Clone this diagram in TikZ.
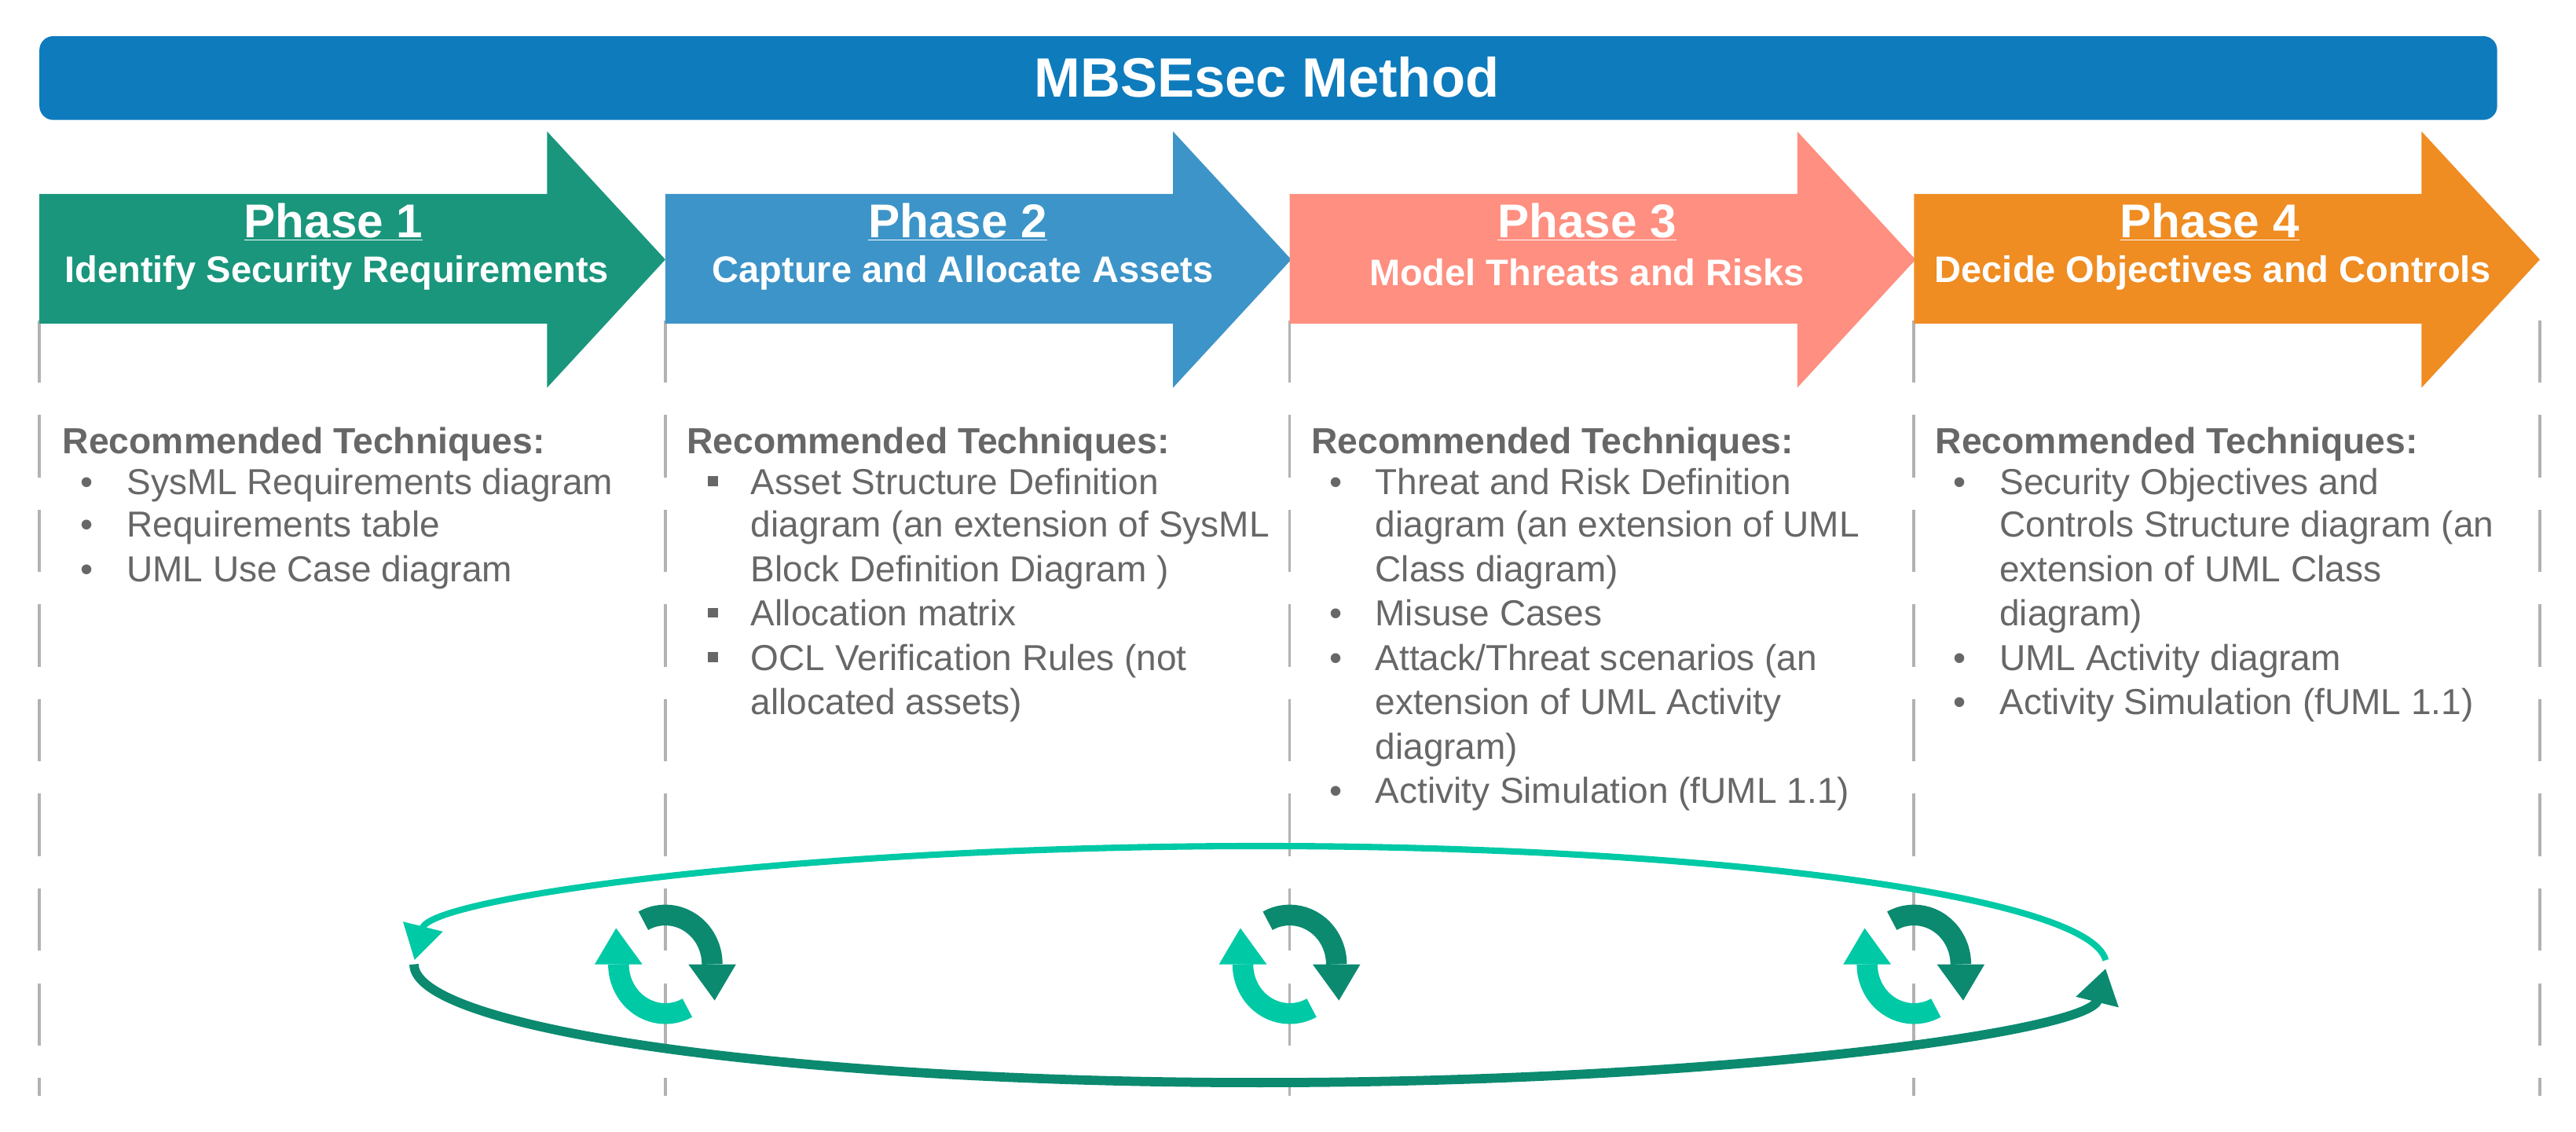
\documentclass[tikz,border=0pt]{standalone}
\usepackage{fontspec}
\setmainfont{Liberation Sans}
\usetikzlibrary{arrows.meta}
\definecolor{titleblue}{HTML}{0E7BBD}
\definecolor{pone}{HTML}{1A967C}
\definecolor{ptwo}{HTML}{3D94C8}
\definecolor{pthree}{HTML}{FF8F80}
\definecolor{pfour}{HTML}{EF8C22}
\definecolor{txtgray}{HTML}{676767}
\definecolor{lteal}{HTML}{00C9A6}
\definecolor{dteal}{HTML}{0B8A70}
\begin{document}
\begin{tikzpicture}[x=0.05cm,y=-0.05cm,
  hd/.style={font=\fontsize{31.5}{36}\selectfont\bfseries,text=txtgray,anchor=base west,inner sep=0},
  it/.style={font=\fontsize{31.3}{36}\selectfont,text=txtgray,anchor=base west,inner sep=0},
  ph/.style={font=\fontsize{41}{46}\selectfont\bfseries,text=white,inner sep=0},
  sub/.style={font=\fontsize{32}{36}\selectfont\bfseries,text=white,inner sep=0},
  dl/.style={draw=gray!60,line width=2.5pt,dash pattern=on 54pt off 28pt},
  cyc/.style={line width=18pt}]
\useasboundingbox (0,0) rectangle (1568,689);
% dashed lines
\foreach \x in {24,405,785,1165,1546} \draw[dl] (\x,195) -- (\x,667);
% title
\fill[titleblue,rounded corners=12pt] (24,22) rectangle (1520,73);
\node[font=\fontsize{48}{52}\selectfont\bfseries,text=white] (title) at (771,47) {MBSEsec Method};
% phase arrows
\foreach \L/\c/\n in {24/pone/1,405/ptwo/2,785/pthree/3,1165/pfour/4}
  \fill[\c] (\L,118) -- (\L+309,118) -- (\L+309,80) -- (\L+381,158) -- (\L+309,236) -- (\L+309,197) -- (\L,197) -- cycle;
\node[ph] (p1) at (203,135) {\underline{Phase 1}};
\node[sub] (s1) at (205,166) {Identify Security Requirements};
\node[ph] (p2) at (583,135) {\underline{Phase 2}};
\node[sub] (s2) at (586,166) {Capture and Allocate Assets};
\node[ph] (p3) at (966,135) {\underline{Phase 3}};
\node[sub] (s3) at (966,166) {Model Threats and Risks};
\node[ph] (p4) at (1345,135) {\underline{Phase 4}};
\node[sub] (s4) at (1347,166) {Decide Objectives and Controls};
% column 1
\node[hd] (h1) at (38,276) {Recommended Techniques:};
\foreach \y/\t [count=\i] in {301/SysML Requirements diagram,327/Requirements table,354/UML Use Case diagram}{
  \node[it] (a\i) at (77,\y) {\t};
  \node[it] (ab\i) at (49,\y) {•};}
% column 2
\node[hd] (h2) at (418,276) {Recommended Techniques:};
\node[it] (b1) at (457,301) {Asset Structure Definition};
\node[it] (b2) at (457,327) {diagram (an extension of SysML};
\node[it] (b3) at (457,354) {Block Definition Diagram )};
\node[it] (b4) at (457,381) {Allocation matrix};
\node[it] (b5) at (457,408) {OCL Verification Rules (not};
\node[it] (b6) at (457,435) {allocated assets)};
\foreach \y in {301,381,408} \fill[txtgray] (431,\y-11) rectangle (437,\y-5);
% column 3
\node[hd] (h3) at (798,276) {Recommended Techniques:};
\node[it] (c1) at (837,301) {Threat and Risk Definition};
\node[it] (c2) at (837,327) {diagram (an extension of UML};
\node[it] (c3) at (837,354) {Class diagram)};
\node[it] (c4) at (837,381) {Misuse Cases};
\node[it] (c5) at (837,408) {Attack/Threat scenarios (an};
\node[it] (c6) at (837,435) {extension of UML Activity};
\node[it] (c7) at (837,462) {diagram)};
\node[it] (c8) at (837,489) {Activity Simulation (fUML 1.1)};
\foreach \y [count=\i] in {301,381,408,489} \node[it] (cb\i) at (809,\y) {•};
% column 4
\node[hd] (h4) at (1178,276) {Recommended Techniques:};
\node[it] (d1) at (1217,301) {Security Objectives and};
\node[it] (d2) at (1217,327) {Controls Structure diagram (an};
\node[it] (d3) at (1217,354) {extension of UML Class};
\node[it] (d4) at (1217,381) {diagram)};
\node[it] (d5) at (1217,408) {UML Activity diagram};
\node[it] (d6) at (1217,435) {Activity Simulation (fUML 1.1)};
\foreach \y [count=\i] in {301,408,435} \node[it] (db\i) at (1189,\y) {•};
% big loop (y up inside scope)
\begin{scope}[shift={(767,587)},y=0.05cm]
\draw[lteal,line width=5.5pt,-{Triangle[width=34pt,length=30pt]}] (2:515 and 72) arc[start angle=2,end angle=178,x radius=515,y radius=72];
\draw[dteal,line width=8pt,-{Triangle[width=36pt,length=30pt]}] (180:515 and 72) arc[start angle=180,end angle=358,x radius=515,y radius=72];
\end{scope}
% cycle icons
\foreach \cx in {405,785,1165}{
  \begin{scope}[shift={(\cx,587)},y=0.05cm]
  \draw[dteal,cyc] (118:28.5 and 30) arc[start angle=118,end angle=0,x radius=28.5,y radius=30];
  \fill[dteal] (14,0) -- (43,0) -- (30,-22) -- cycle;
  \draw[lteal,cyc] (-62:28.5 and 30) arc[start angle=-62,end angle=-180,x radius=28.5,y radius=30];
  \fill[lteal] (-14,0) -- (-43,0) -- (-30,22) -- cycle;
  \end{scope}
}
\end{tikzpicture}
\end{document}
